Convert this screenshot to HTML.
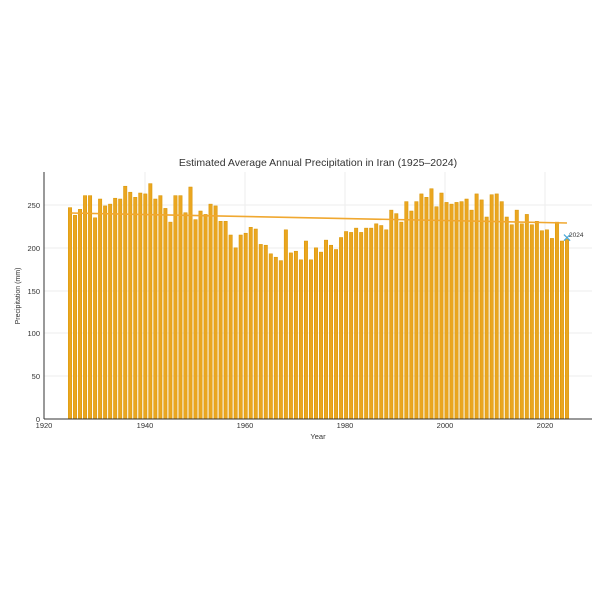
<!DOCTYPE html>
<html><head><meta charset="utf-8"><style>body{margin:0;background:#fff}svg{display:block}text{font-family:"Liberation Sans",sans-serif;fill:#333}</style></head><body>
<svg width="600" height="600" viewBox="0 0 600 600">
<g stroke="#eee" stroke-width="1">
<line x1="145" y1="172" x2="145" y2="419"/><line x1="245" y1="172" x2="245" y2="419"/><line x1="345" y1="172" x2="345" y2="419"/><line x1="445" y1="172" x2="445" y2="419"/><line x1="545" y1="172" x2="545" y2="419"/>
<line x1="44" y1="205" x2="592" y2="205"/><line x1="44" y1="248" x2="592" y2="248"/><line x1="44" y1="291" x2="592" y2="291"/><line x1="44" y1="333" x2="592" y2="333"/><line x1="44" y1="376" x2="592" y2="376"/>
</g>
<g id="bars" fill="#eaa620" stroke="#d99400" stroke-width="0.5"></g>
<line x1="70" y1="213" x2="567" y2="223" stroke="#f0a830" stroke-width="1.6"/>
<text x="562" y="242" font-size="12" style="fill:#4aa8d8">✕</text>
<text x="569" y="237" font-size="6.5">2024</text>
<line x1="44" y1="172" x2="44" y2="419" stroke="#333"/><line x1="44" y1="419" x2="592" y2="419" stroke="#333"/>
<g font-size="7.5" text-anchor="middle">
<text x="44" y="428">1920</text><text x="145" y="428">1940</text><text x="245" y="428">1960</text><text x="345" y="428">1980</text><text x="445" y="428">2000</text><text x="545" y="428">2020</text>
</g>
<g font-size="7.5" text-anchor="end">
<text x="40" y="422">0</text><text x="40" y="379">50</text><text x="40" y="336">100</text><text x="40" y="294">150</text><text x="40" y="251">200</text><text x="40" y="208">250</text>
</g>
<text x="318" y="439" font-size="7.5" text-anchor="middle">Year</text>
<text transform="translate(20,296) rotate(-90)" font-size="7" text-anchor="middle">Precipitation (mm)</text>
<text x="318" y="166" font-size="10.5" text-anchor="middle">Estimated Average Annual Precipitation in Iran (1925–2024)</text>
</svg>
<script>
var v=[247,238,245,261,261,235,257,249,251,258,257,272,265,259,264,263,275,257,261,246,230,261,261,241,271,233,243,239,251,249,231,231,215,200,215,217,224,222,204,203,193,189,185,221,194,196,186,208,186,200,195,209,203,198,212,219,218,223,218,223,223,228,226,221,244,240,230,254,243,254,263,259,269,248,264,253,251,253,254,257,244,263,256,236,262,263,254,236,227,244,228,239,227,231,220,221,211,230,208,210];
var g=document.getElementById('bars'),s='';
v.forEach(function(d,i){var x=70+i*5.02-1.7,h=d*0.856;s+='<rect x="'+x.toFixed(2)+'" y="'+(419-h).toFixed(1)+'" width="3.4" height="'+h.toFixed(1)+'"/>';});
g.innerHTML=s;
</script>
</body></html>
